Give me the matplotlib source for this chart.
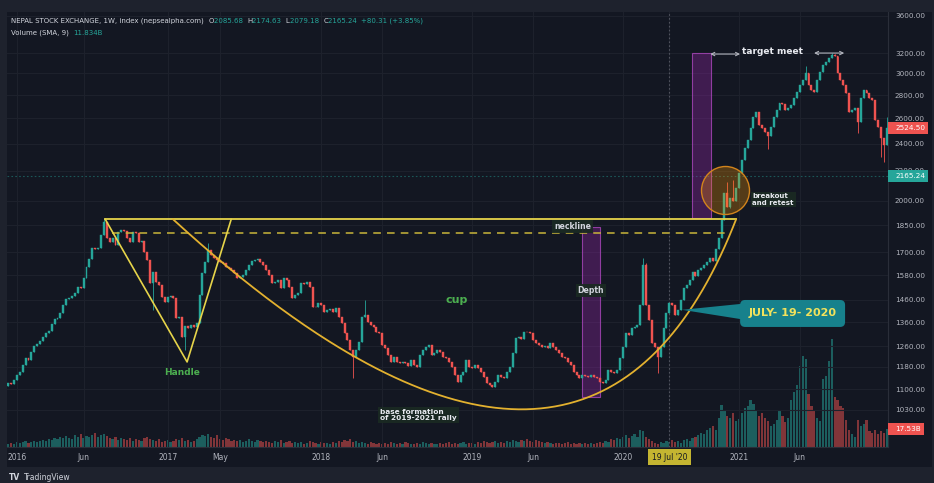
import numpy as np
import matplotlib
matplotlib.use("Agg")
import matplotlib.pyplot as plt
from matplotlib.patches import Rectangle, Polygon, FancyBboxPatch
from matplotlib.transforms import IdentityTransform
from matplotlib.ticker import NullLocator, FixedLocator, FixedFormatter

# ---------------- data (weekly NEPSE index) ----------------
first_open = 1110
closes = [
    1121, 1118, 1132, 1150, 1161, 1188, 1214, 1207, 1238, 1262,
    1270, 1282, 1298, 1315, 1323, 1353, 1374, 1379, 1401, 1437,
    1465, 1469, 1479, 1493, 1522, 1518, 1566, 1621, 1663, 1722,
    1718, 1722, 1795, 1871, 1778, 1756, 1778, 1739, 1812, 1824,
    1818, 1778, 1756, 1812, 1806, 1756, 1761, 1701, 1658, 1541,
    1596, 1546, 1531, 1474, 1451, 1474, 1479, 1469, 1379, 1383,
    1298, 1344, 1336, 1349, 1340, 1357, 1483, 1591, 1648, 1711,
    1684, 1669, 1658, 1648, 1643, 1621, 1616, 1606, 1591, 1566,
    1571, 1581, 1606, 1632, 1653, 1658, 1663, 1648, 1632, 1606,
    1581, 1541, 1546, 1556, 1517, 1566, 1556, 1522, 1469, 1483,
    1493, 1541, 1538, 1546, 1522, 1428, 1426, 1446, 1437, 1406,
    1415, 1419, 1406, 1424, 1383, 1357, 1315, 1286,
    1246, 1218, 1246, 1278, 1383, 1392, 1361, 1349, 1340, 1319,
    1315, 1266, 1254, 1226, 1199, 1218, 1199, 1195, 1199, 1195,
    1184, 1207, 1188, 1180, 1226, 1246, 1258, 1266, 1226, 1234,
    1246, 1238, 1218, 1214, 1199, 1180, 1150, 1125, 1150, 1161,
    1207, 1180, 1178, 1188, 1176, 1161, 1143, 1121, 1114, 1107,
    1125, 1150, 1143, 1140, 1161, 1180, 1234, 1294, 1298,
    1290, 1319, 1317, 1315, 1286, 1274, 1266, 1258, 1260, 1254,
    1274, 1258, 1246, 1234, 1218, 1214, 1199, 1188, 1161, 1150,
    1139, 1150, 1146, 1143, 1150, 1143, 1139, 1125, 1121, 1132,
    1169, 1161, 1158, 1169, 1214, 1258, 1315, 1308, 1336, 1340,
    1349, 1437, 1632, 1437, 1370, 1274, 1258, 1218, 1258, 1336,
    1401, 1446, 1437, 1392, 1415, 1460, 1517, 1531, 1556, 1596, 1576,
    1606, 1616, 1632, 1648, 1669, 1653, 1717, 1778, 1883, 2051,
    1962, 2019, 2000, 2084, 2186,
    2278, 2367, 2428, 2522, 2612, 2654, 2546, 2522, 2490, 2455,
    2530, 2612, 2670, 2730, 2722, 2670, 2687, 2713, 2774, 2828,
    2891, 2938, 3004, 2891, 2846, 2828, 2938, 3013, 3081, 3110,
    3150, 3181, 3170, 3004, 2938, 2891, 2819, 2654, 2670, 2687,
    2571, 2774, 2846, 2819, 2774, 2757, 2587, 2530, 2443, 2390, 2524.50,
]
# weekly turnover, billions
volumes_b = [
    3, 4, 3, 5, 4, 5, 6, 4, 5, 6,
    5, 6, 7, 6, 8, 7, 9, 8, 10, 9,
    11, 9, 8, 12, 10, 13, 9, 11, 10, 12,
    14, 10, 12, 13, 11, 9, 8, 10, 7, 9,
    8, 7, 9, 6, 8, 7, 6, 9, 10, 8,
    7, 6, 8, 5, 6, 7, 5, 6, 8, 7,
    9, 6, 7, 5, 6, 8, 10, 12, 11, 13,
    10, 9, 12, 8, 7, 9, 8, 6, 7, 6,
    7, 5, 6, 8, 6, 5, 7, 6, 5, 6,
    5, 4, 6, 5, 7, 4, 5, 6, 4, 5,
    4, 5, 3, 4, 6, 5, 4, 3, 5, 4,
    4, 3, 5, 4, 6, 5, 7, 6, 8, 5,
    6, 4, 5, 4, 3, 5, 4, 3, 4, 3,
    4, 3, 5, 4, 3, 4, 3, 5, 4, 3,
    3, 4, 3, 5, 4, 3, 4, 3, 3, 4,
    3, 4, 5, 3, 4, 3, 4, 5, 3, 4,
    4, 3, 5, 4, 6, 5, 4, 5, 6, 4,
    5, 4, 6, 5, 7, 6, 5, 7, 6, 8,
    6, 5, 7, 6, 5, 4, 5, 4, 3, 4,
    4, 3, 4, 5, 3, 4, 3, 4, 3, 4,
    3, 4, 3, 4, 5, 4, 6, 5, 8, 7,
    9, 8, 10, 12, 9, 11, 13, 10, 16, 15,
    10, 8, 6, 4, 3, 5, 4, 6, 5, 7,
    5, 6, 4, 7, 8, 6, 9, 10, 12, 14,
    13, 16, 18, 20, 16, 28, 41, 35, 30, 28,
    33, 25, 27, 33, 38, 40, 45, 42, 36, 30,
    33, 28, 25, 20, 22, 26, 35, 30, 24, 28,
    45, 53, 60, 78, 88, 85, 51, 40, 35, 28,
    25, 66, 69, 83, 104, 48, 45, 40, 38, 26,
    16, 13, 10, 26, 20, 22, 26, 15, 14, 16,
    13, 15, 14, 17.53,
]
# notable wicks (bar index -> price)
wick_highs = {33: 1895, 69: 1752, 123: 1460, 219: 1669, 220: 1640, 248: 2125,
              250: 2135, 275: 3070, 284: 3200, 285: 3195, 303: 2610}
wick_lows = {50: 1415, 61: 1246, 119: 1139, 224: 1157, 249: 1955, 262: 2360,
             293: 2480, 301: 2300, 302: 2260}

price_ticks = [3600, 3200, 3000, 2800, 2600, 2400, 2200, 2000, 1850, 1700,
               1580, 1460, 1360, 1260, 1180, 1100, 1030]
time_tick_bars = [3, 26, 55, 73, 108, 129, 160, 181, 212, 228, 252, 273]
time_tick_labels = ['2016', 'Jun', '2017', 'May', '2018', 'Jun', '2019', 'Jun',
                    '2020', "19 Jul '20", '2021', 'Jun']
cross_label = "19 Jul '20"
cross_price = 2165.24
last_volume_label = '17.53B'

# ---------------- figure ----------------
W, H = 934, 483
BG = '#131722'
OUTER = '#1e222d'
GREEN = '#26a69a'
RED = '#ef5350'
TXT = '#b2b5be'
GRID = '#1d212c'

fig = plt.figure(figsize=(W / 100, H / 100), dpi=100)
fig.patch.set_facecolor(OUTER)
fig.add_artist(Rectangle((7 / W, (H - 467) / H), 925 / W, 455 / H,
                         transform=fig.transFigure, facecolor=BG,
                         edgecolor='none', zorder=-10))

rect = [7 / W, (H - 447) / H, 881 / W, 435 / H]
ax_vol = fig.add_axes(rect)
ax = fig.add_axes(rect)
for a in (ax_vol, ax):
    a.set_facecolor('none')

n = len(closes)
xs = np.arange(n)
c = np.array(closes, float)
o = np.r_[first_open, c[:-1]]
up = c >= o
hi = np.maximum(o, c)
lo = np.minimum(o, c)
wh = hi.copy()
wl = lo.copy()
for k, v in wick_highs.items():
    wh[k] = max(wh[k], v)
for k, v in wick_lows.items():
    wl[k] = min(wl[k], v)
cols = np.where(up, GREEN, RED)

xlim = (-0.4, 303.4)

# volume
vcols = [(38 / 255, 166 / 255, 154 / 255, 0.5) if u else (239 / 255, 83 / 255, 80 / 255, 0.5) for u in up]
ax_vol.bar(xs, volumes_b, width=0.78, color=vcols, linewidth=0)
ax_vol.set_xlim(*xlim)
ax_vol.set_ylim(0, 420)
ax_vol.axis('off')

# price
ax.set_yscale('log')
ax.set_xlim(*xlim)
ax.set_ylim(915, 3646)

for p in price_ticks:
    ax.axhline(p, color=GRID, lw=0.8, zorder=0.5)
for b in time_tick_bars:
    ax.axvline(b, color=GRID, lw=0.8, zorder=0.5)

ax.vlines(xs, wl, wh, colors=cols, lw=0.6, zorder=3)
ax.bar(xs, hi - lo, bottom=lo, width=0.66, color=cols, edgecolor=cols,
       linewidth=0.3, zorder=4)

# axes styling
for s in ('top', 'left'):
    ax.spines[s].set_visible(False)
for s in ('right', 'bottom'):
    ax.spines[s].set_color('#2a2e39')
    ax.spines[s].set_linewidth(0.8)
ax.yaxis.tick_right()
ax.yaxis.set_major_locator(FixedLocator(price_ticks))
ax.yaxis.set_major_formatter(FixedFormatter([f'{p:.2f}' for p in price_ticks]))
ax.yaxis.set_minor_locator(NullLocator())
ax.tick_params(axis='y', length=0, pad=5, labelsize=5.2, labelcolor=TXT)
reg = [(b, l) for b, l in zip(time_tick_bars, time_tick_labels) if l != cross_label]
ax.set_xticks([b for b, _ in reg])
ax.set_xticklabels([l for _, l in reg])
ax.xaxis.set_minor_locator(NullLocator())
ax.tick_params(axis='x', length=0, pad=4.5, labelsize=5.5, labelcolor=TXT)

cross_bar = time_tick_bars[time_tick_labels.index(cross_label)]

# crosshair lines
ax.axvline(cross_bar, color='#50535e', lw=0.8, ls=(0, (1.5, 2)), zorder=2)
ax.axhline(cross_price, color=(38 / 255, 166 / 255, 154 / 255, 0.45), lw=0.8,
           ls=(0, (1.5, 2)), zorder=2)

# ---------------- drawings ----------------
YEL = '#e6d44a'
neck_price = 1886
ax.plot([33.5, 251], [neck_price, neck_price], color=YEL, lw=1.3, zorder=5)
ax.plot([35.8, 249], [1808, 1808], color='#c9b53a', lw=1.1, ls=(0, (5, 4)), zorder=5)
ax.plot([33.5, 61.7, 76.9], [neck_price, 1199, neck_price], color=YEL, lw=1.2, zorder=5)

t = np.linspace(0, 1, 300)
p0, p1, p2 = (56.9, 1886), (200, 564), (251, 1886)
cx = (1 - t) ** 2 * p0[0] + 2 * t * (1 - t) * p1[0] + t ** 2 * p2[0]
cy = np.exp((1 - t) ** 2 * np.log(p0[1]) + 2 * t * (1 - t) * np.log(p1[1]) + t ** 2 * np.log(p2[1]))
ax.plot(cx, cy, color='#e3b12f', lw=1.3, zorder=5)

PURP_F = (156 / 255, 39 / 255, 176 / 255, 0.33)
PURP_E = (171 / 255, 71 / 255, 188 / 255, 0.8)
ax.add_patch(Rectangle((197.9, 1073), 6.2, 1841 - 1073, facecolor=PURP_F,
                       edgecolor=PURP_E, lw=0.8, zorder=2))
ax.add_patch(Rectangle((235.9, 1895), 6.5, 3200 - 1895, facecolor=PURP_F,
                       edgecolor=PURP_E, lw=0.8, zorder=2))

ax.scatter([247.2], [2071], s=1194, facecolor=(1.0, 0.6, 0.0, 0.28),
           edgecolor='#d2841c', lw=1.0, zorder=6)

LBL = dict(boxstyle='square,pad=0.25', fc='#1a2a22', ec='none', alpha=0.92)
ax.text(194.7, 1844, 'neckline', color='#d1d4dc', fontsize=5.6, weight='bold',
        ha='center', va='center', bbox=LBL, zorder=7)
ax.text(200.9, 1505, 'Depth', color='#d1d4dc', fontsize=5.6, weight='bold',
        ha='center', va='center', bbox=LBL, zorder=7)
ax.text(154.5, 1460, 'cup', color='#4caf50', fontsize=8, weight='bold',
        ha='center', va='center', zorder=7)
ax.text(60, 1158, 'Handle', color='#4caf50', fontsize=6.5, weight='bold',
        ha='center', va='center', zorder=7)
ax.text(128.3, 1012, 'base formation\nof 2019-2021 rally', color='#e8eaf0',
        fontsize=5.3, weight='bold', ha='left', va='center', linespacing=1.05,
        bbox=LBL, zorder=7)
ax.text(256.6, 2010, 'breakout\nand retest', color='#e8eaf0', fontsize=5.0,
        weight='bold', ha='left', va='center', linespacing=1.05, bbox=LBL, zorder=7)
ax.text(263.4, 3216, 'target meet', color='#e8eaf0', fontsize=6.5,
        weight='bold', ha='center', va='center', zorder=7)
for a0, a1, pr in ((242.1, 252.4, 3190), (277.9, 288.3, 3200)):
    ax.annotate('', xy=(a0, pr), xytext=(a1, pr),
                arrowprops=dict(arrowstyle='<->', color='#b2b5be', lw=0.8,
                                shrinkA=0, shrinkB=0, mutation_scale=6), zorder=7)

# callout
fig.canvas.draw()
def to_px(b, p):
    return ax.transData.transform((b, p))

CALL = '#17818c'
ax.add_patch(Polygon([(232.4, 1415), (253.5, 1443), (253.5, 1372)], closed=True,
                     facecolor=CALL, edgecolor='none', zorder=7))
bx0, by0 = to_px(252.4, 1340)
bx1, by1 = to_px(288.6, 1460)
fig.add_artist(FancyBboxPatch((bx0, by0), bx1 - bx0, by1 - by0,
                              boxstyle='round,pad=0,rounding_size=5',
                              facecolor=CALL, edgecolor='none',
                              transform=IdentityTransform(), zorder=8))
fig.text(((bx0 + bx1) / 2) / W, ((by0 + by1) / 2) / H, 'JULY- 19- 2020',
         color='#f2e25c', fontsize=8, weight='bold', ha='center', va='center',
         zorder=9)

# ---------------- price-scale tags ----------------
def tag(y_disp, text, fc, fg='white', x0=888, x1=928):
    fig.add_artist(Rectangle((x0, y_disp - 6), x1 - x0, 12, facecolor=fc,
                             edgecolor='none', transform=IdentityTransform(),
                             zorder=8))
    fig.text((x0 + 7) / W, y_disp / H, text, color=fg, fontsize=5.2,
             ha='left', va='center', zorder=9)

tag(to_px(0, closes[-1])[1], f'{closes[-1]:.2f}', RED)
tag(to_px(0, cross_price)[1], f'{cross_price:.2f}', GREEN)
vy = ax_vol.transData.transform((0, volumes_b[-1]))[1]
tag(vy, last_volume_label, RED, x1=924)

# time tag
cxp = to_px(cross_bar, 1000)[0]
fig.add_artist(Rectangle((cxp - 21, H - 465), 43, 16, facecolor='#c4b531',
                         edgecolor='none', transform=IdentityTransform(), zorder=8))
fig.text(cxp / W, (H - 457) / H, cross_label, color='#131722', fontsize=5.5,
         ha='center', va='center', zorder=9)

# ---------------- header ----------------
renderer = fig.canvas.get_renderer()
def seq_text(x_px, y_px, parts, size, gap=0.0):
    x = x_px
    for part in parts:
        s, col = part[0], part[1]
        wt = part[2] if len(part) > 2 else 'normal'
        tt = fig.text(x / W, 1 - y_px / H, s, color=col, fontsize=size,
                      weight=wt, ha='left', va='center', zorder=9)
        x += tt.get_window_extent(renderer).width + gap

HDR = '#d1d4dc'
seq_text(11, 21, [('NEPAL STOCK EXCHANGE, 1W, index (nepsealpha.com)  ', HDR),
                  ('O', HDR), ('2085.68  ', GREEN), ('H', HDR), ('2174.63  ', GREEN),
                  ('L', HDR), ('2079.18  ', GREEN), ('C', HDR), ('2165.24  ', GREEN),
                  ('+80.31 (+3.85%)', GREEN)], 5.0)
seq_text(11, 33, [('Volume (SMA, 9)  ', HDR), ('11.834B', GREEN)], 5.0)

seq_text(9, 477, [('TV', '#d1d4dc', 'bold'), ('TradingView', '#d1d4dc')], 5.5, gap=4)

fig.savefig('out.png', dpi=100, facecolor=OUTER)
